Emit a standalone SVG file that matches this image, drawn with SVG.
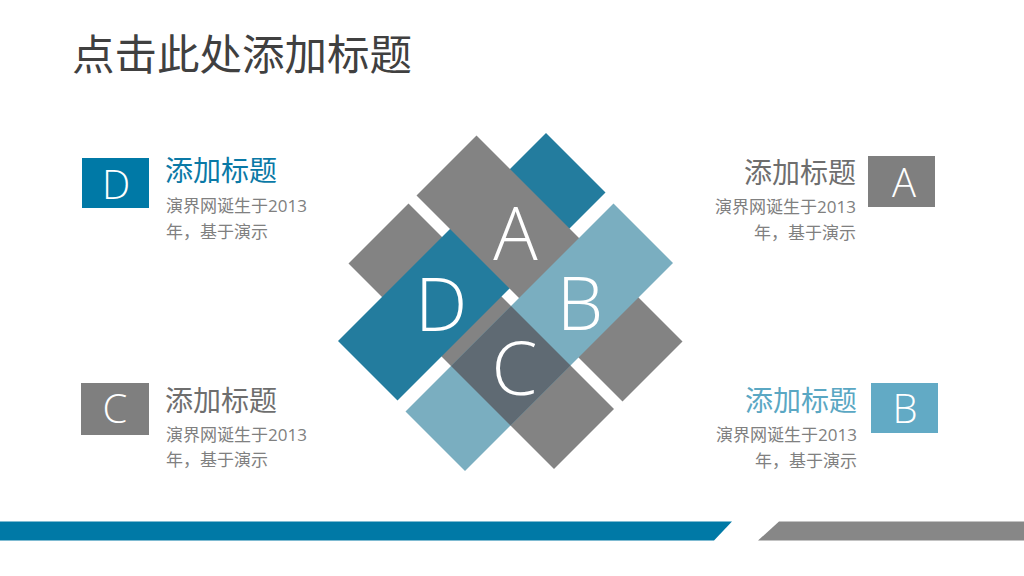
<svg xmlns="http://www.w3.org/2000/svg" width="1024" height="576" viewBox="0 0 1024 576">
<style>
.cjk{font-family:"Noto Sans CJK SC","Noto Sans",sans-serif}
.num{font-family:"Open Sans","Noto Sans CJK SC",sans-serif}
.lat{font-family:"Open Sans","Liberation Sans",sans-serif;font-weight:350;fill:#ffffff;text-anchor:middle}
.big{font-size:74px}
.box{font-size:40px}
.ttl{font-size:28px}
.body{font-size:17px;fill:#808080}
.end{text-anchor:end}
</style>
<rect x="0" y="0" width="1024" height="576" fill="#ffffff"/>
<text class="cjk" x="72" y="70" font-size="42.5" fill="#404040">点击此处添加标题</text>

<g id="center">
  <polygon points="408.5,203.5 614,409 554,469 348.5,263.5" fill="#838383"/>
  <polygon points="546,133 605.5,192.5 397.5,400.5 338,341" fill="#237c9e"/>
  <polygon points="476.5,135.5 682.5,341.5 622.5,401.5 416.5,195.5" fill="#838383"/>
  <polygon points="613.5,203.5 673,263 465,471 405.5,411.5" fill="#7aaec0"/>
  <polygon points="511,306 570.5,365.5 510.5,425.5 451,366" fill="#5f6a73"/>
  <text class="lat big" x="515.5" y="260">A</text>
  <text class="lat big" x="441" y="331">D</text>
  <text class="lat big" x="580" y="329.5">B</text>
  <text class="lat big" x="514.5" y="395">C</text>
</g>

<g id="itemD">
  <rect x="82" y="158" width="67" height="50" fill="#0079a6"/>
  <text class="lat box" x="116" y="199">D</text>
  <text class="cjk ttl" x="165" y="181" fill="#0a79a6">添加标题</text>
  <text class="cjk body" x="166" y="212">演界网诞生于<tspan class="num">2013</tspan></text>
  <text class="cjk body" x="166" y="238">年，基于演示</text>
</g>

<g id="itemA">
  <rect x="868" y="156" width="67" height="51" fill="#7f7f7f"/>
  <text class="lat box" x="904" y="197">A</text>
  <text class="cjk ttl end" x="856" y="183" fill="#6e6e6e">添加标题</text>
  <text class="cjk body end" x="856" y="213">演界网诞生于<tspan class="num">2013</tspan></text>
  <text class="cjk body end" x="856" y="239">年，基于演示</text>
</g>

<g id="itemC">
  <rect x="81" y="383" width="68" height="52" fill="#7f7f7f"/>
  <text class="lat box" x="115" y="423">C</text>
  <text class="cjk ttl" x="165" y="411" fill="#6e6e6e">添加标题</text>
  <text class="cjk body" x="166" y="441">演界网诞生于<tspan class="num">2013</tspan></text>
  <text class="cjk body" x="166" y="466">年，基于演示</text>
</g>

<g id="itemB">
  <rect x="871" y="383" width="67" height="50" fill="#62aac5"/>
  <text class="lat box" x="905" y="423">B</text>
  <text class="cjk ttl end" x="857" y="411" fill="#5aa7c3">添加标题</text>
  <text class="cjk body end" x="857" y="441">演界网诞生于<tspan class="num">2013</tspan></text>
  <text class="cjk body end" x="857" y="467">年，基于演示</text>
</g>

<g id="connectors"></g>

<g id="footer">
  <polygon points="0,521.5 732,521.5 714,540.5 0,540.5" fill="#0079a6"/>
  <polygon points="779,521.5 1024,521.5 1024,540.5 758,540.5" fill="#878787"/>
</g>
</svg>
